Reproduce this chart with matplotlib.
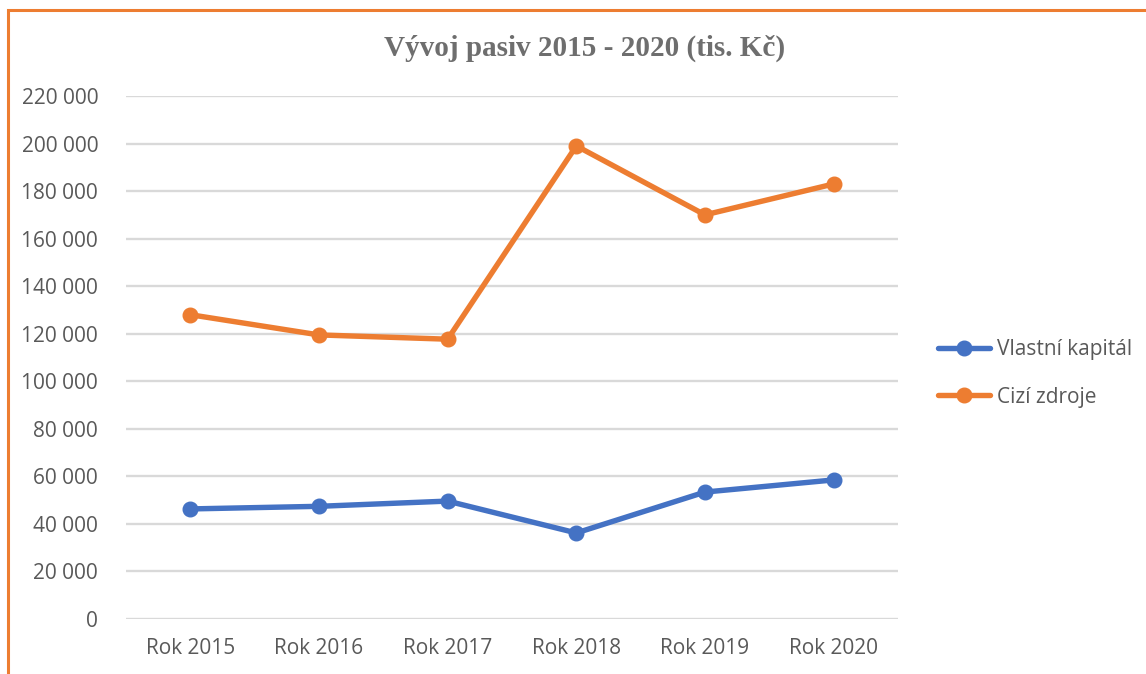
import matplotlib
matplotlib.use("Agg")
import matplotlib.pyplot as plt
from matplotlib.ticker import FuncFormatter, MultipleLocator
from matplotlib.patches import Rectangle

categories = ["Rok 2015", "Rok 2016", "Rok 2017", "Rok 2018", "Rok 2019", "Rok 2020"]
vlastni_kapital = [46300, 47400, 49600, 36200, 53400, 58500]
cizi_zdroje = [128000, 119500, 117700, 199000, 170000, 183000]
series_names = ["Vlastní kapitál", "Cizí zdroje"]
title = "Vývoj pasiv 2015 - 2020 (tis. Kč)"

blue = "#4472C4"
orange = "#ED7D31"
text_gray = "#595959"
grid_gray = "#D9D9D9"

W, H = 1146, 674
fig = plt.figure(figsize=(W / 100, H / 100), dpi=100)
fig.patch.set_facecolor("white")

ax = fig.add_axes([126 / W, 1 - 619 / H, (898 - 126) / W, (619 - 96) / H])
x = list(range(len(categories)))
ax.plot(x, vlastni_kapital, color=blue, lw=3.9, marker="o", ms=10.5,
        solid_capstyle="round", label=series_names[0], zorder=3)
ax.plot(x, cizi_zdroje, color=orange, lw=3.9, marker="o", ms=10.5,
        solid_capstyle="round", label=series_names[1], zorder=3)

ax.set_xlim(-0.5, len(categories) - 0.5)
ax.set_ylim(0, 220000)
ax.yaxis.set_major_locator(MultipleLocator(20000))
ax.yaxis.set_major_formatter(FuncFormatter(lambda v, p: f"{int(v):,}".replace(",", " ")))
ax.set_xticks(x)
ax.set_xticklabels(categories)
ax.grid(axis="y", color=grid_gray, lw=1.7)
ax.set_axisbelow(True)
for s in ax.spines.values():
    s.set_visible(False)
ax.tick_params(length=0, labelsize=15, labelcolor=text_gray)
ax.tick_params(axis="y", pad=20)
ax.tick_params(axis="x", pad=14)
for lab in ax.get_xticklabels() + ax.get_yticklabels():
    lab.set_fontfamily("Open Sans")

fig.text(585 / W, 1 - 48 / H, title, ha="center", va="center",
         fontsize=21, fontweight="bold", color="#6E6E6E", family="Liberation Serif")

leg = fig.legend(loc="center left", bbox_to_anchor=(938 / W, 1 - 373.5 / H),
                 frameon=False, borderpad=0, borderaxespad=0,
                 handlelength=2.5, handletextpad=0.35, labelspacing=1.25,
                 prop={"family": "Open Sans", "size": 15})
for t in leg.get_texts():
    t.set_color(text_gray)

fig.patches.append(Rectangle((8 / W, -0.1), 1.2, 1 - 9.5 / H + 0.1,
                             transform=fig.transFigure, fill=False,
                             edgecolor=orange, lw=2.2, zorder=10))

fig.savefig("out.png", dpi=100)
